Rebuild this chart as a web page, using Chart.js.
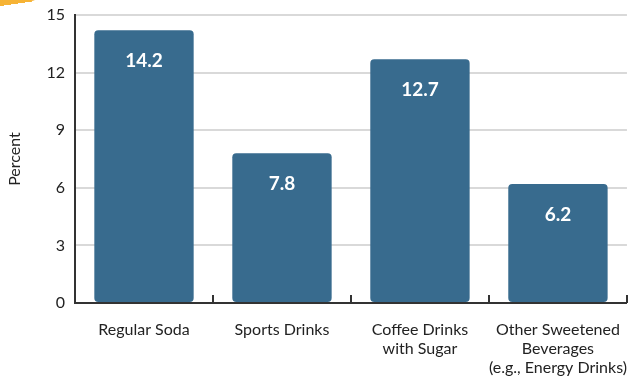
<!DOCTYPE html>
<html>
<head>
<meta charset="utf-8">
<script src="https://cdn.jsdelivr.net/npm/chart.js@4"></script>
<style>
  html, body { margin: 0; padding: 0; background: #fff; overflow: hidden; }
  #wrap { position: relative; width: 637px; height: 383px; }
  #tab { position: absolute; left: -8px; top: -14px; width: 44px; height: 18px; background: #f6b335; border-radius: 6px; transform: rotate(-8deg); }
</style>
</head>
<body>
<div id="wrap">
  <div id="tab"></div>
  <canvas id="bev" width="637" height="383"></canvas>
</div>
<script>
  const categories = [
    "Regular Soda",
    "Sports Drinks",
    ["Coffee Drinks", "with Sugar"],
    ["Other Sweetened", "Beverages", "(e.g., Energy Drinks)"]
  ];
  const percentValues = [14.2, 7.8, 12.7, 6.2];
  const yTicks = [0, 3, 6, 9, 12, 15];

  const FONT = "Lato, 'Open Sans', sans-serif";
  const BAR = "#386b8e";

  // value labels inside the bars
  const barLabels = {
    id: "barLabels",
    afterDatasetsDraw: (chart) => {
      const ctx = chart.ctx;
      const meta = chart.getDatasetMeta(0);
      ctx.save();
      ctx.font = "bold 19px " + FONT;
      ctx.fillStyle = "#fff";
      ctx.textAlign = "center";
      ctx.textBaseline = "middle";
      meta.data.forEach((bar, i) => {
        ctx.fillText(percentValues[i].toFixed(1), bar.x, bar.y + 31);
      });
      ctx.restore();
    }
  };

  // small ticks pointing up from the x axis at the category edges
  const innerTicks = {
    id: "innerTicks",
    afterDraw: (chart) => {
      const ctx = chart.ctx;
      const x = chart.scales.x;
      const y0 = chart.chartArea.bottom;
      ctx.save();
      ctx.strokeStyle = "#333";
      ctx.lineWidth = 2;
      for (let i = 1; i <= categories.length; i++) {
        const px = Math.round(x.getPixelForValue(i - 0.5));
        ctx.beginPath();
        ctx.moveTo(px, y0);
        ctx.lineTo(px, y0 - 8);
        ctx.stroke();
      }
      ctx.restore();
    }
  };

  new Chart(document.getElementById("bev").getContext("2d"), {
    type: "bar",
    data: {
      labels: categories,
      datasets: [{
        data: percentValues,
        backgroundColor: BAR,
        borderRadius: 4,
        borderSkipped: false,
        barPercentage: 0.72,
        categoryPercentage: 1
      }]
    },
    options: {
      responsive: false,
      animation: false,
      layout: { padding: { top: 15, right: 8, left: 5, bottom: 0 } },
      plugins: {
        legend: { display: false },
        tooltip: { enabled: false }
      },
      scales: {
        x: {
          offset: true,
          grid: { display: false },
          border: { display: true, color: "#333", width: 2 },
          ticks: {
            color: "#222",
            font: { family: FONT, size: 16 },
            maxRotation: 0,
            autoSkip: false,
            padding: 9
          },
          afterFit: (s) => { s.height = 80; }
        },
        y: {
          min: 0,
          max: 15,
          afterBuildTicks: (s) => { s.ticks = yTicks.map(v => ({ value: v })); },
          grid: { color: "#d9d9d9", lineWidth: 2, drawTicks: false },
          border: { display: true, color: "#333", width: 2 },
          ticks: {
            color: "#222",
            font: { family: FONT, size: 16 },
            padding: 10
          },
          title: {
            display: true,
            text: "Percent",
            color: "#222",
            font: { family: FONT, size: 16 },
            padding: { top: 0, bottom: 12 }
          },
          afterFit: (s) => { s.width = 70; s.paddingTop = 0; s.paddingBottom = 0; }
        }
      }
    },
    plugins: [barLabels, innerTicks]
  });
</script>
</body>
</html>
